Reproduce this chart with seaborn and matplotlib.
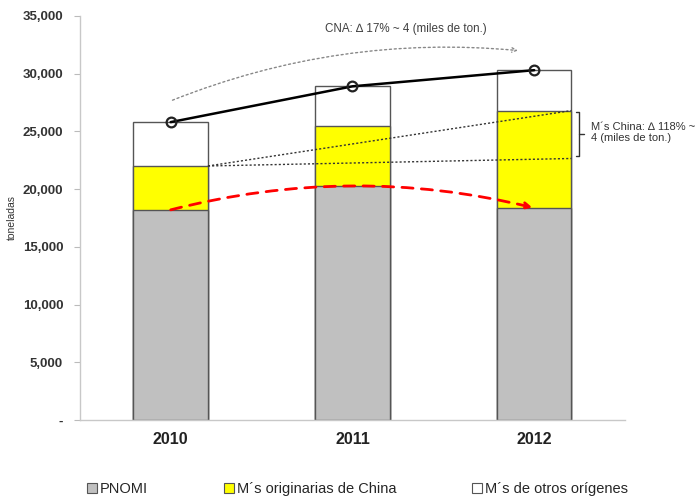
#!/usr/bin/env python3
"""
Stacked bars: PNOMI vs imports from China and other origins, 2010-2012
"""

import numpy as np
import pandas as pd
import seaborn as sns
import matplotlib.pyplot as plt
from matplotlib.patches import Patch

# === Data (toneladas) ===
years = ["2010", "2011", "2012"]
pnomi = [18200, 20300, 18400]
china = [3800, 5200, 8400]
otros = [3800, 3400, 3500]
cna = [25800, 28900, 30300]

yticks = [0, 5000, 10000, 15000, 20000, 25000, 30000, 35000]
ytick_labels = ["-", "5,000", "10,000", "15,000", "20,000", "25,000", "30,000", "35,000"]

legend_labels = ["PNOMI", "M´s originarias de China", "M´s de otros orígenes"]
cna_note = "CNA: \u2206 17% ~ 4 (miles de ton.)"
china_note = "M´s China: \u2206 118% ~\n4 (miles de ton.)"

# === Styling ===
sns.set_style("white")
plt.rcParams["font.family"] = ["Liberation Sans", "DejaVu Sans"]

GRAY = "#C0C0C0"
YELLOW = "#FFFF00"
EDGE = "#555555"

df = pd.DataFrame({"year": years, "pnomi": pnomi, "china": china, "otros": otros})
df["lvl2"] = df["pnomi"] + df["china"]
df["lvl3"] = df["lvl2"] + df["otros"]

fig = plt.figure(figsize=(7, 4.97), dpi=100)
ax = fig.add_axes([0.114, 0.155, 0.779, 0.813])

# cumulative layers, drawn from the top down
for col, color in [("lvl3", "white"), ("lvl2", YELLOW), ("pnomi", GRAY)]:
    sns.barplot(data=df, x="year", y=col, color=color, edgecolor=EDGE,
                linewidth=1.0, width=0.41, saturation=1, ax=ax)

x = np.arange(len(years))

# CNA line
ax.plot(x, cna, color="black", lw=1.8, marker="o", ms=7,
        mfc="none", mec="#222222", mew=1.6, zorder=5)

# dotted guides for China imports
ax.plot([0.205, 2.205], [22000, 26800], color="#333333", lw=1.0, ls=(0, (1.5, 1.5)), zorder=4)
ax.plot([0.205, 2.205], [22000, 22650], color="#333333", lw=1.0, ls=(0, (1.5, 1.5)), zorder=4)

# red dashed curved arrow over PNOMI
ax.annotate("", xy=(1.99, 18400), xytext=(0.0, 18200),
            arrowprops=dict(arrowstyle="-|>", color="#FF0000", lw=2, ls=(0, (4, 3)),
                            connectionstyle="arc3,rad=-0.125", mutation_scale=10,
                            shrinkA=0, shrinkB=0), zorder=6)

# grey dotted curved arrow for CNA note
ax.annotate("", xy=(1.91, 32000), xytext=(0.01, 27700),
            arrowprops=dict(arrowstyle="->", color="#888888", lw=1.0, ls=(0, (1.5, 2)),
                            connectionstyle="arc3,rad=-0.12", mutation_scale=8,
                            shrinkA=0, shrinkB=0))
ax.text(1.295, 33900, cna_note, ha="center", va="center", fontsize=8.4, color="#404040")

# bracket for China note
bx = 2.248
ax.plot([bx - 0.02, bx, bx, bx - 0.02], [26700, 26700, 22900, 22900],
        color="#333333", lw=1.0, clip_on=False)
ax.plot([bx, bx + 0.028], [24800, 24800], color="#333333", lw=1.0, clip_on=False)
ax.text(2.31, 24900, china_note, ha="left", va="center", fontsize=8,
        color="#333333", linespacing=1.1)

# axes
ax.set_xlim(-0.5, 2.5)
ax.set_ylim(0, 35000)
ax.set_yticks(yticks)
ax.set_yticklabels(ytick_labels, fontsize=9.5, fontweight="bold", color="#333333")
ax.set_xticks(x)
ax.set_xticklabels(years, fontsize=11.5, fontweight="bold", color="#222222")
ax.set_xlabel("")
ax.set_ylabel("toneladas", fontsize=7.5, color="#333333", labelpad=4)
ax.tick_params(axis="y", length=4, color="#BBBBBB", left=True, pad=8)
ax.tick_params(axis="x", length=0, pad=9)
sns.despine(ax=ax)
for s in ["left", "bottom"]:
    ax.spines[s].set_color("#C8C8C8")
    ax.spines[s].set_linewidth(1.0)

handles = [Patch(facecolor=GRAY, edgecolor=EDGE, lw=0.8),
           Patch(facecolor=YELLOW, edgecolor=EDGE, lw=0.8),
           Patch(facecolor="white", edgecolor=EDGE, lw=0.8)]
fig.legend(handles, legend_labels, loc="center left", bbox_to_anchor=(0.105, 0.016),
           ncol=3, frameon=False, fontsize=10.5, handlelength=0.7, handleheight=0.7,
           handletextpad=0.2, columnspacing=5.2)

fig.savefig("out.png", dpi=100)
plt.close(fig)
